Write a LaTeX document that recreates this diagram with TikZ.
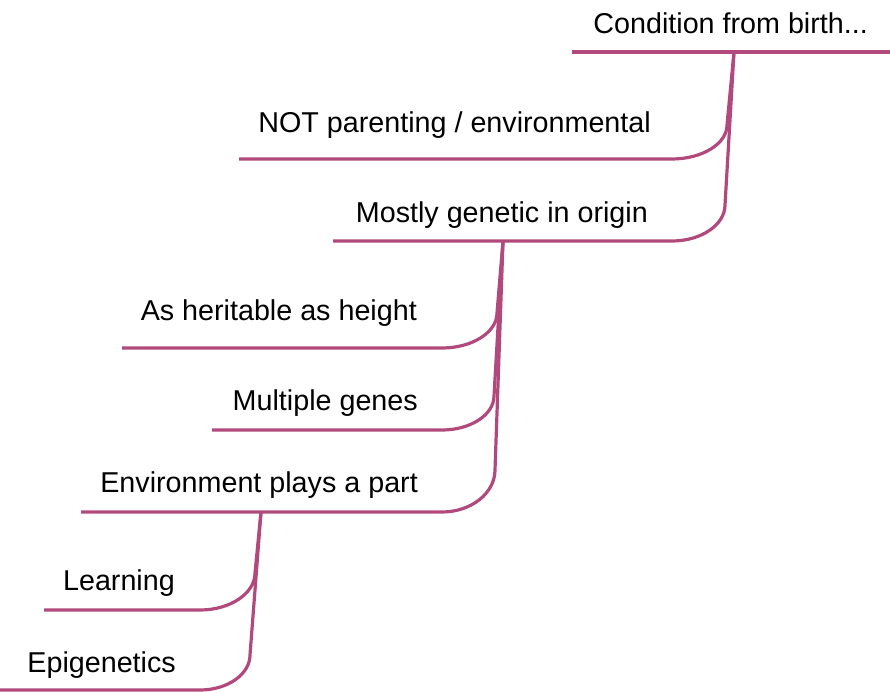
\documentclass[tikz,border=0pt]{standalone}
\usepackage{fontspec}
\usetikzlibrary{calc}
\setmainfont{Liberation Sans}
\definecolor{mmpink}{RGB}{178,73,125}
\newcommand{\topicfont}{\fontsize{28.7}{34}\selectfont}
\begin{document}
\begin{tikzpicture}[x=1pt,y=-1pt,
  topic/.style={font=\topicfont, text=black, inner sep=0pt, anchor=base east},
  limb/.style={draw=mmpink, line width=3.2pt},
  elbow/.style={to path={
    .. controls ($(\tikztostart)!0.55!(\tikztostart |- \tikztotarget)$)
            and ($(\tikztotarget)!0.55!(\tikztostart |- \tikztotarget)$)
    .. (\tikztotarget)}}]
\useasboundingbox (0,0) rectangle (890,692);

% ---- topics ----
\node[topic] (root) at (868,34)  {Condition from birth...};
\node[topic] (nenv) at (651,133) {NOT parenting / environmental};
\node[topic] (gen)  at (648,223) {Mostly genetic in origin};
\node[topic] (her)  at (417,320) {As heritable as height};
\node[topic] (mul)  at (418,410) {Multiple genes};
\node[topic] (env)  at (418,492) {Environment plays a part};
\node[topic] (lrn)  at (175,590) {Learning};
\node[topic] (epi)  at (176,672) {Epigenetics};

% ---- underline ends and bends ----
\coordinate (root-l) at (572,52);  \coordinate (root-r) at (890,52);
\coordinate (root-p) at (734,52);
\coordinate (nenv-k) at (727,125); \coordinate (nenv-e) at (672,159); \coordinate (nenv-l) at (239,159);
\coordinate (gen-k)  at (725,205); \coordinate (gen-e)  at (672,241); \coordinate (gen-l)  at (333,241);
\coordinate (gen-p)  at (503,241);
\coordinate (her-k)  at (497,313); \coordinate (her-e)  at (442,348); \coordinate (her-l)  at (122,348);
\coordinate (mul-k)  at (494,396); \coordinate (mul-e)  at (442,430); \coordinate (mul-l)  at (212,430);
\coordinate (env-k)  at (495,470); \coordinate (env-e)  at (442,512); \coordinate (env-l)  at (81,512);
\coordinate (env-p)  at (261,512);
\coordinate (lrn-k)  at (255,573); \coordinate (lrn-e)  at (200,610); \coordinate (lrn-l)  at (44,610);
\coordinate (epi-k)  at (250,655); \coordinate (epi-e)  at (200,690); \coordinate (epi-l)  at (0,690);

% ---- branches ----
\draw[limb] (root-l) -- (root-r);
\draw[limb] (root-p) -- (nenv-k) to[elbow] (nenv-e) -- (nenv-l);
\draw[limb] (root-p) -- (gen-k)  to[elbow] (gen-e)  -- (gen-l);
\draw[limb] (gen-p)  -- (her-k)  to[elbow] (her-e)  -- (her-l);
\draw[limb] (gen-p)  -- (mul-k)  to[elbow] (mul-e)  -- (mul-l);
\draw[limb] (gen-p)  -- (env-k)  to[elbow] (env-e)  -- (env-l);
\draw[limb] (env-p)  -- (lrn-k)  to[elbow] (lrn-e)  -- (lrn-l);
\draw[limb] (env-p)  -- (epi-k)  to[elbow] (epi-e)  -- (epi-l);
\end{tikzpicture}
\end{document}
